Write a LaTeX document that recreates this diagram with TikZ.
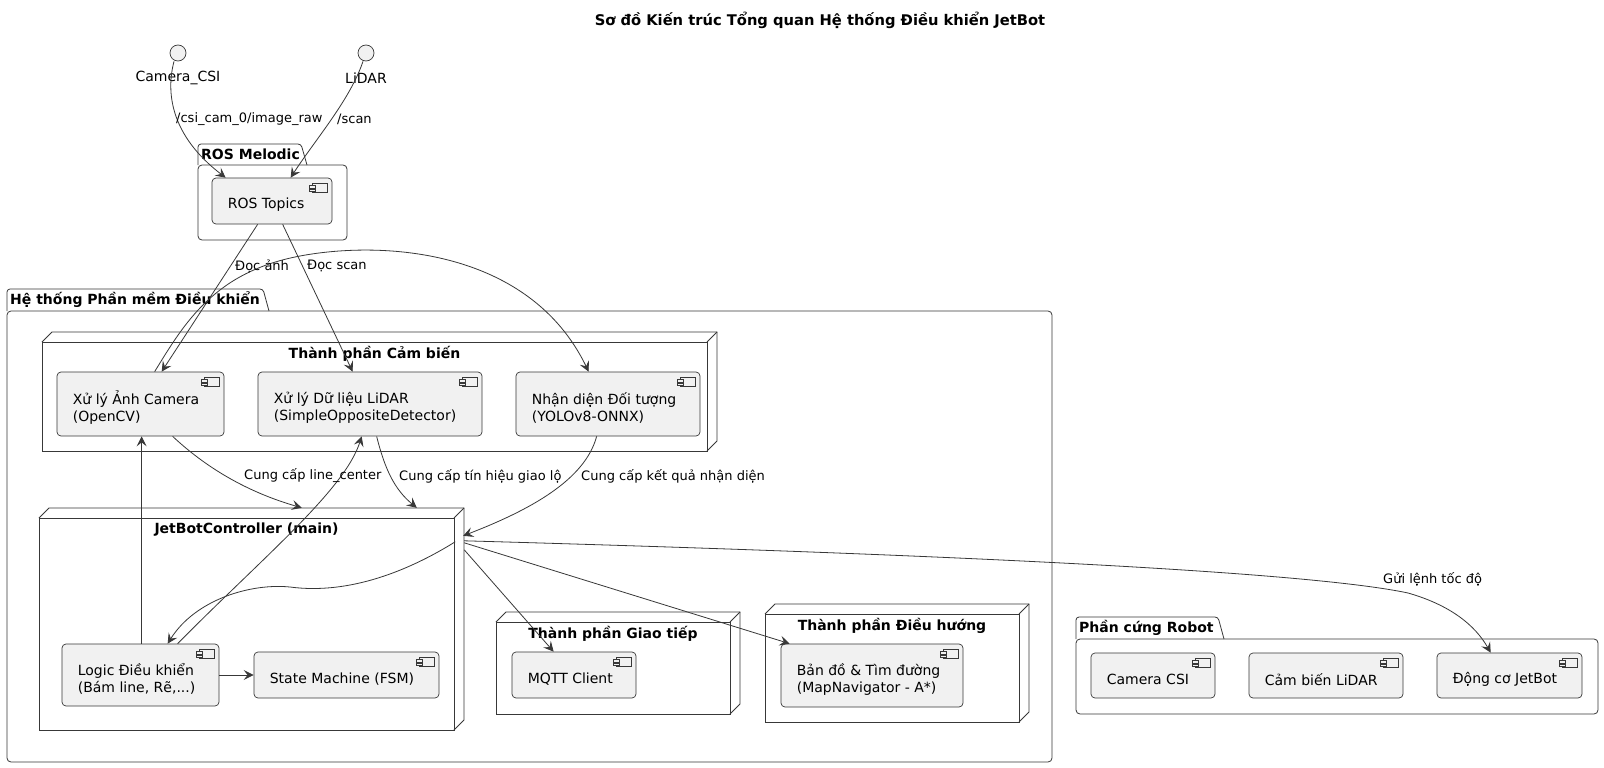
\documentclass[tikz,border=0pt]{standalone}
\usepackage{fontspec}
\setmainfont{DejaVu Sans}
\usetikzlibrary{arrows.meta,calc}
\definecolor{linec}{HTML}{383838}
\definecolor{compfill}{HTML}{F1F1F1}
\tikzset{
 compbox/.style={draw=linec, line width=0.7pt, fill=compfill, rounded corners=4pt, inner sep=0pt},
 comptext/.style={font=\fontsize{14}{17}\selectfont, align=left, inner xsep=16pt, inner ysep=0pt, text=black},
 iconline/.style={draw=linec, line width=0.5pt, fill=compfill},
 boxline/.style={draw=linec, line width=0.8pt},
 arr/.style={draw=linec, line width=0.8pt, -{Stealth[length=10pt,width=10pt,inset=4pt]}},
 albl/.style={font=\fontsize{13}{15}\selectfont, anchor=west, inner sep=0pt, text=black},
 ttl/.style={font=\fontsize{14}{17}\selectfont\bfseries, inner sep=0pt, text=black},
 iface/.style={circle, draw=linec, line width=0.7pt, fill=compfill, minimum size=16pt, inner sep=0pt},
 ilbl/.style={font=\fontsize{14}{17}\selectfont, inner sep=0pt, text=black},
}
% component: name, x1, y1, x2, y2, text
\newcommand\comp[6]{%
  \node[compbox, minimum width={#4-#2}, minimum height={#5-#3}] (#1) at ({(#2+#4)/2},{(#3+#5)/2}) {};
  \node[comptext, anchor=west] at ($(#1.west)+(0,4)$) {#6};
  \draw[iconline] ($(#1.north east)+(-20,6)$) rectangle ++(15,9);
  \draw[iconline] ($(#1.north east)+(-23,8)$) rectangle ++(6,2.5);
  \draw[iconline] ($(#1.north east)+(-23,11.5)$) rectangle ++(6,2.5);
}
% package: name, x1, tabtop, bodytop, x2, y2, tabright, title
\newcommand\pkg[8]{%
  \draw[boxline, rounded corners=3pt] (#2,#4) -- (#2,#3) -- (#7,#3) -- ({#7+6},#4);
  \draw[boxline, rounded corners=4pt] (#2,#4) rectangle (#5,#6);
  \node[ttl, anchor=west] (#1t) at ({#2+3},{(#3+#4)/2}) {#8};
  \node[inner sep=0pt, minimum width={#5-#2}, minimum height={#6-#4}] (#1) at ({(#2+#5)/2},{(#4+#6)/2}) {};
}
% 3D node: name, x1, y1, x2, y2, title
\newcommand\dnode[6]{%
  \draw[boxline] (#2,#3) rectangle (#4,#5);
  \draw[boxline] (#2,#3) -- ({#2+10},{#3-10}) -- ({#4+10},{#3-10}) -- ({#4+10},{#5-10}) -- (#4,#5);
  \draw[boxline] (#4,#3) -- ({#4+10},{#3-10});
  \node[ttl] (#1t) at ({(#2+#4)/2},{#3+12}) {#6};
  \node[inner sep=0pt, minimum width={#4-#2}, minimum height={#5-#3}] (#1) at ({(#2+#4)/2},{(#3+#5)/2}) {};
}
\begin{document}
\begin{tikzpicture}[x=1pt, y=-1pt]
\fill[white] (0,0) rectangle (1604,768);
\useasboundingbox (0,0) rectangle (1604,768);

\node[ttl, font=\fontsize{14.7}{17}\selectfont\bfseries] (title) at (820,20) {Sơ đồ Kiến trúc Tổng quan Hệ thống Điều khiển JetBot};

% containers
\pkg{ros}{198}{144}{165}{347}{240}{301}{ROS Melodic}
\pkg{sys}{7}{289}{311}{1052}{762}{263}{Hệ thống Phần mềm Điều khiển}
\pkg{hw}{1076}{617}{639}{1598}{714}{1218}{Phần cứng Robot}
\dnode{sensor}{42}{342}{707}{451}{Thành phần Cảm biến}
\dnode{jb}{39}{518}{454}{730}{JetBotController (main)}
\dnode{giaotiep}{496}{622}{730}{714}{Thành phần Giao tiếp}
\dnode{dieuhuong}{765}{614}{1019}{722}{Thành phần Điều hướng}

% interfaces
\node[iface] (camcsi) at (178,53) {};
\node[ilbl] (camcsil) at (178,78) {Camera\_CSI};
\node[iface] (lidar) at (366,53) {};
\node[ilbl] (lidarl) at (366,78) {LiDAR};

% components
\comp{rostopics}{212}{178}{332}{224}{ROS Topics}
\comp{camimg}{57}{372}{224}{436}{Xử lý Ảnh Camera\\(OpenCV)}
\comp{lidarproc}{258}{372}{482}{436}{Xử lý Dữ liệu LiDAR\\(SimpleOppositeDetector)}
\comp{yolo}{516}{372}{700}{436}{Nhận diện Đối tượng\\(YOLOv8-ONNX)}
\comp{logic}{62}{644}{219}{706}{Logic Điều khiển\\(Bám line, Rẽ,...)}
\comp{fsm}{254}{652}{439}{698}{State Machine (FSM)}
\comp{mqtt}{512}{652}{636}{698}{MQTT Client}
\comp{mapnav}{781}{644}{963}{707}{Bản đồ \& Tìm đường\\(MapNavigator - A*)}
\comp{hwcam}{1091}{653}{1215}{698}{Camera CSI}
\comp{hwlidar}{1249}{653}{1403}{698}{Cảm biến LiDAR}
\comp{hwmotor}{1437}{653}{1582}{698}{Động cơ JetBot}

% connectors
\draw[arr] ($(camcsi.south)+(-4,0)$) .. controls (166,92) and (170,135) .. ($(rostopics.north west)+(14,0)$);
\draw[arr] ($(lidar.south)+(-3,0)$) .. controls (350,100) and (315,140) .. ($(rostopics.north west)+(79,0)$);
\draw[arr] ($(rostopics.south west)+(46,0)$) -- ($(camimg.north west)+(105,0)$);
\draw[arr] ($(rostopics.south west)+(71,0)$) -- ($(lidarproc.north west)+(95,0)$);
\draw[arr] ($(camimg.north west)+(98,0)$) .. controls (185,322) and (215,272) .. (300,256)
   .. controls (385,240) and (530,250) .. ($(yolo.north west)+(73,0)$);
\draw[arr] ($(camimg.south west)+(116,0)$) .. controls (200,462) and (240,490) .. ($(jb.north west)+(263,-10)$);
\draw[arr] ($(lidarproc.south west)+(119,0)$) .. controls (385,470) and (395,490) .. ($(jb.north west)+(378,-10)$);
\draw[arr] ($(yolo.south west)+(81,0)$) .. controls (585,480) and (530,510) .. ($(jb.north east)+(9,18)$);
\draw[arr] ($(logic.north west)+(80,0)$) -- ($(camimg.south west)+(85,0)$);
\draw[arr] ($(logic.north west)+(116,0)$) .. controls (260,560) and (345,490) .. ($(lidarproc.south west)+(104,0)$);
\draw[arr] ($(jb.north east)+(1,24)$) .. controls (410,570) and (350,595) .. (290,587)
   .. controls (250,583) and (195,600) .. ($(logic.north west)+(106,0)$);
\draw[arr] (logic.east) -- (fsm.west);
\draw[arr] ($(jb.north east)+(10,32)$) -- ($(mqtt.north west)+(42,0)$);
\draw[arr] ($(jb.north east)+(10,25)$) -- ($(mapnav.north west)+(9,0)$);
\draw[arr] ($(jb.north east)+(10,23)$) .. controls (900,553) and (1300,570) .. (1408,593)
   .. controls (1450,605) and (1475,625) .. ($(hwmotor.north west)+(54,0)$);

% connector labels
\node[albl] at (176,119) {/csi\_cam\_0/image\_raw};
\node[albl] at (337,119) {/scan};
\node[albl] at (235,266) {Đọc ảnh};
\node[albl] at (307,266) {Đọc scan};
\node[albl] at (244,476) {Cung cấp line\_center};
\node[albl] at (399,476) {Cung cấp tín hiệu giao lộ};
\node[albl] at (581,476) {Cung cấp kết quả nhận diện};
\node[albl] at (1383,579) {Gửi lệnh tốc độ};
\end{tikzpicture}
\end{document}
